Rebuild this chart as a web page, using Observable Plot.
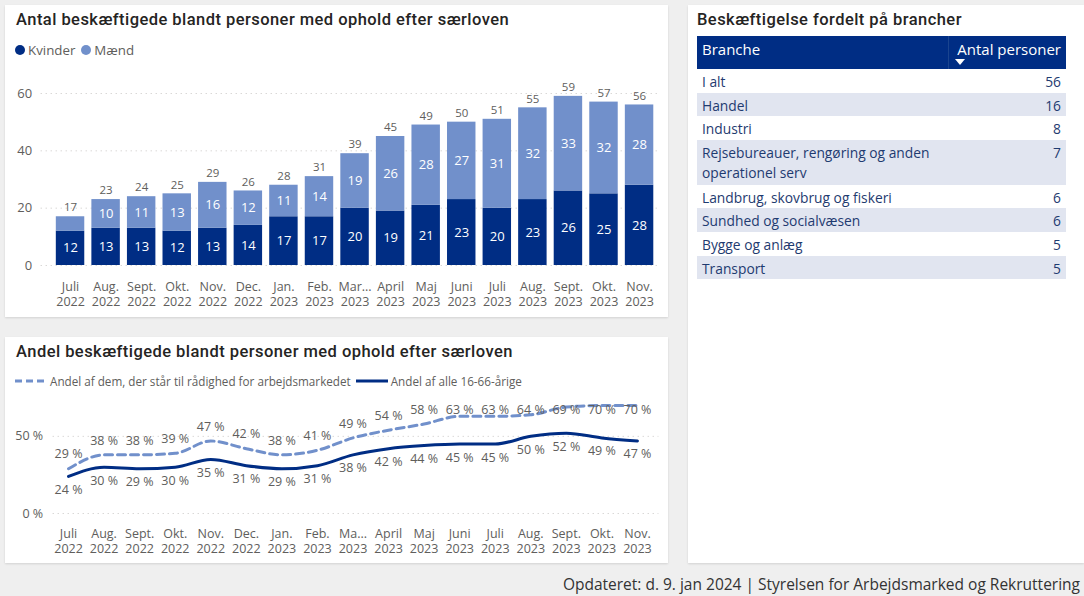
<!DOCTYPE html>
<html><head><meta charset="utf-8">
<script src="https://cdn.jsdelivr.net/npm/d3@7"></script>
<script src="https://cdn.jsdelivr.net/npm/@observablehq/plot@0.6"></script>
<style>
body{margin:0;background:#efefef;}
#root{position:relative;width:1084px;height:596px;overflow:hidden;background:#efefef;font-family:"Open Sans",sans-serif;}
.panel{position:absolute;background:#fff;box-shadow:0 1px 2px rgba(0,0,0,.12);}
.title{position:absolute;font-family:Roboto,sans-serif;font-weight:500;font-size:16.5px;color:#252423;white-space:nowrap;letter-spacing:0.45px;}
.legend{position:absolute;color:#605e5c;white-space:nowrap;display:flex;align-items:center;}
.dot{display:inline-block;width:10px;height:10px;border-radius:50%;margin-right:3px;}
.plot{position:absolute;}
table{position:absolute;border-collapse:collapse;font-size:13.8px;color:#1f3b70;}
td{padding:0 5px;vertical-align:top;}
th{font-weight:400;color:#fff;background:#002d84;vertical-align:top;text-align:left;padding:0 5px;font-size:15px;}
#footer{position:absolute;right:4px;top:573px;font-size:15.5px;color:#333;white-space:nowrap;}
</style></head>
<body><div id="root">
<div class="panel" style="left:5px;top:5px;width:663px;height:312px"></div>
<div class="panel" style="left:5px;top:337px;width:663px;height:226px"></div>
<div class="panel" style="left:688px;top:5px;width:396px;height:558px"></div>
<div class="title" style="left:16px;top:10px">Antal beskæftigede blandt personer med ophold efter særloven</div>
<div class="legend" style="left:15px;top:41px;font-size:13.3px"><span class="dot" style="background:#002d84"></span>Kvinder<span class="dot" style="background:#7190cb;margin-left:6px"></span>Mænd</div>
<div id="c1" class="plot" style="left:5px;top:70px"></div>
<div class="title" style="left:16px;top:342px">Andel beskæftigede blandt personer med ophold efter særloven</div>
<div class="legend" style="left:15px;top:373px;font-size:11.7px"><svg width="33" height="6"><line x1="0" y1="3" x2="33" y2="3" stroke="#7190cb" stroke-width="3" stroke-dasharray="7,4"/></svg><span style="margin-left:2px">Andel af dem, der står til rådighed for arbejdsmarkedet</span><svg width="32" height="6" style="margin-left:5px"><line x1="0" y1="3" x2="32" y2="3" stroke="#002d84" stroke-width="3"/></svg><span style="margin-left:3px">Andel af alle 16-66-årige</span></div>
<div id="c2" class="plot" style="left:5px;top:390px"></div>
<div class="title" style="left:697px;top:10px">Beskæftigelse fordelt på brancher</div>
<div id="tbl"></div>
<div id="footer">Opdateret: d. 9. jan 2024 | Styrelsen for Arbejdsmarked og Rekruttering</div>
</div>
<script>
// ---- data ----
const months = ["Juli 2022","Aug. 2022","Sept. 2022","Okt. 2022","Nov. 2022","Dec. 2022","Jan. 2023","Feb. 2023","Mar. 2023","April 2023","Maj 2023","Juni 2023","Juli 2023","Aug. 2023","Sept. 2023","Okt. 2023","Nov. 2023"];
const tickLabels1 = ["Juli\n2022","Aug.\n2022","Sept.\n2022","Okt.\n2022","Nov.\n2022","Dec.\n2022","Jan.\n2023","Feb.\n2023","Mar...\n2023","April\n2023","Maj\n2023","Juni\n2023","Juli\n2023","Aug.\n2023","Sept.\n2023","Okt.\n2023","Nov.\n2023"];
const tickLabels2 = ["Juli\n2022","Aug.\n2022","Sept.\n2022","Okt.\n2022","Nov.\n2022","Dec.\n2022","Jan.\n2023","Feb.\n2023","Ma...\n2023","April\n2023","Maj\n2023","Juni\n2023","Juli\n2023","Aug.\n2023","Sept.\n2023","Okt.\n2023","Nov.\n2023"];
const kvinder = [12,13,13,12,13,14,17,17,20,19,21,23,20,23,26,25,28];
const maend   = [5,10,11,13,16,12,11,14,19,26,28,27,31,32,33,32,28];
const andelRaadighed = [29,38,38,39,47,42,38,41,49,54,58,63,63,64,69,70,70];
const andelAlle      = [24,30,29,30,35,31,29,31,38,42,44,45,45,50,52,49,47];
const yTicks1 = [0,20,40,60];
const yTicks2 = [0,50];
const brancher = ["I alt","Handel","Industri","Rejsebureauer, rengøring og anden operationel serv","Landbrug, skovbrug og fiskeri","Sundhed og socialvæsen","Bygge og anlæg","Transport"];
const antal = [56,16,8,7,6,6,5,5];

const navy = "#002d84", light = "#7190cb", grey = "#605e5c";
const font = "Open Sans, sans-serif";

// ---- chart 1 ----
const rows = [
  ...months.map((m,i)=>({month:m, series:"Kvinder", value:kvinder[i]})),
  ...months.map((m,i)=>({month:m, series:"Mænd", value:maend[i]}))
];
const totals = months.map((m,i)=>({month:m, total:kvinder[i]+maend[i]}));
const lab1 = new Map(months.map((m,i)=>[m,tickLabels1[i]]));
const c1 = Plot.plot({
  width:663, height:245, marginLeft:43.7, marginRight:7.6, marginTop:23, marginBottom:50,
  style:{fontFamily:font, fontSize:"12.5px", color:grey, background:"transparent"},
  x:{type:"band", domain:months, padding:0.2, round:false, axis:null},
  y:{domain:[0,60], axis:null},
  color:{domain:["Kvinder","Mænd"], range:[navy, light]},
  marks:[
    Plot.ruleY(yTicks1, {stroke:"#c8c6c4", strokeDasharray:"1,4", insetLeft:-8}),
    Plot.barY(rows, {x:"month", y:"value", fill:"series"}),
    Plot.text(rows, Plot.stackY({x:"month", y:"value", z:"series", text:d=>d.value>=6?String(d.value):"", fill:"white", fontSize:13})),
    Plot.text(totals, {x:"month", y:"total", text:d=>String(d.total), dy:-9, fill:grey, fontSize:11.5}),
    Plot.text(yTicks1, {y:d=>d, text:d=>String(d), frameAnchor:"left", textAnchor:"end", dx:-17, fill:grey, fontSize:13}),
    Plot.text(months, {x:d=>d, text:d=>lab1.get(d), frameAnchor:"bottom", lineAnchor:"top", dy:14, lineHeight:1.25, fill:grey, fontSize:12.5})
  ]
});
document.getElementById("c1").append(c1);

// ---- chart 2 ----
const lab2 = new Map(months.map((m,i)=>[m,tickLabels2[i]]));
const r2 = months.map((m,i)=>({month:m, v:andelRaadighed[i]}));
const a2 = months.map((m,i)=>({month:m, v:andelAlle[i]}));
const c2 = Plot.plot({
  width:663, height:173, marginLeft:41.7, marginRight:9.7, marginTop:15, marginBottom:50,
  style:{fontFamily:font, fontSize:"12.5px", color:grey, background:"transparent", overflow:"visible"},
  x:{type:"band", domain:months, padding:0.2, round:false, axis:null},
  y:{domain:[0,70], axis:null},
  marks:[
    Plot.ruleY(yTicks2, {stroke:"#c8c6c4", strokeDasharray:"1,4", insetLeft:6}),
    Plot.line(r2, {x:"month", y:"v", stroke:light, strokeWidth:3, strokeDasharray:"8,5", curve:"monotone-x"}),
    Plot.line(a2, {x:"month", y:"v", stroke:navy, strokeWidth:3, curve:"monotone-x"}),
    Plot.text(r2, {x:"month", y:d=>Math.min(d.v+9.3, 67.4), text:d=>d.v+" %", fill:grey, fontSize:12.5}),
    Plot.text(a2, {x:"month", y:"v", text:d=>d.v+" %", dy:13.5, fill:grey, fontSize:12.5}),
    Plot.text(yTicks2, {y:d=>d, text:d=>d+" %", frameAnchor:"left", textAnchor:"end", dx:-4, fill:grey, fontSize:12.5}),
    Plot.text(months, {x:d=>d, text:d=>lab2.get(d), frameAnchor:"bottom", lineAnchor:"top", dy:13, lineHeight:1.25, fill:grey, fontSize:12.5})
  ]
});
document.getElementById("c2").append(c2);

// ---- table ----
let html = '<table style="left:697px;top:36px;width:369px">';
html += '<tr style="height:33px"><th style="width:241px;padding-top:3px;border-right:1px solid #1a448f">Branche</th><th style="text-align:right;padding-top:3px;position:relative">Antal personer<div style="position:absolute;left:6px;top:23px;width:0;height:0;border-left:5px solid transparent;border-right:5px solid transparent;border-top:6px solid #fff"></div></th></tr>';
brancher.forEach((b,i)=>{
  const bg = i%2===1 ? "#e1e5f0" : "#fff";
  const h = b.length>40 ? 45 : 23.6;
  html += `<tr style="background:${bg};height:${h}px"><td style="padding-top:3px;line-height:20.5px">${b}</td><td style="text-align:right;padding-top:3px;line-height:20.5px">${antal[i]}</td></tr>`;
});
html += '</table>';
document.getElementById("tbl").innerHTML = html;
</script>
</body></html>
